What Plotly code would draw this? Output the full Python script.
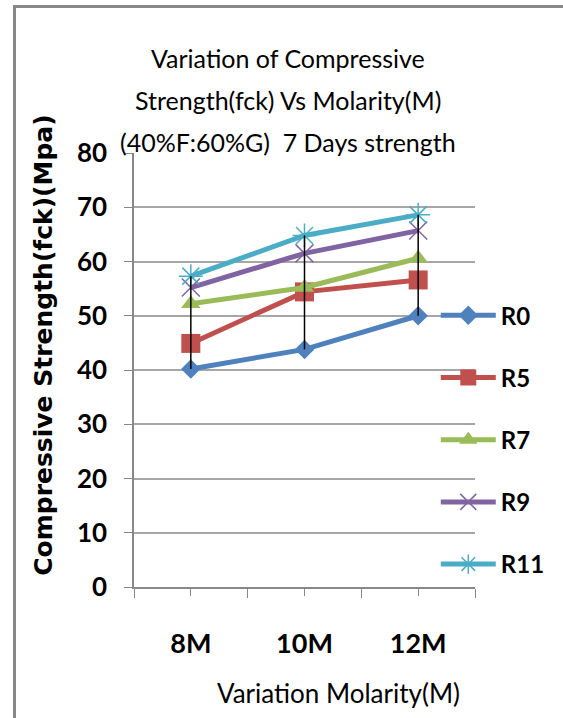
import numpy as np
import plotly.graph_objects as go

# data
molarity = ['8M', '10M', '12M']
series_names = ['R0', 'R5', 'R7', 'R9', 'R11']
r0 = [40.2, 43.8, 50.0]
r5 = [44.9, 54.4, 56.6]
r7 = [52.2, 55.2, 60.6]
r9 = [55.2, 61.5, 65.7]
r11 = [57.3, 64.8, 68.6]

colors = ['#4F81BD', '#C0504D', '#9BBB59', '#8064A2', '#4BACC6']
symbols = ['diamond', 'square', 'triangle-up', 'x-thin-open', 'asterisk-open']
sizes = [15, 19, 17, 18, 20]

FONT = 'Lato, sans-serif'
xpos = np.arange(len(molarity))

fig = go.Figure()

all_series = [r0, r5, r7, r9, r11]
for name, vals, col, sym, sz in zip(series_names, all_series, colors, symbols, sizes):
    thin = sym.endswith('open')
    fig.add_trace(go.Scatter(
        x=xpos, y=vals, name=name, mode='lines+markers',
        legendgroup=name,
        line=dict(color=col, width=5),
        marker=dict(symbol=sym, size=sz, color=col,
                    line=dict(color=col, width=1.5 if thin else 0)),
    ))

# high-low lines
arr = np.array(all_series)
hx, hy = [], []
for i in xpos:
    hx += [i, i, None]
    hy += [arr[:, i].min(), arr[:, i].max(), None]
fig.add_trace(go.Scatter(x=hx, y=hy, mode='lines', showlegend=False,
                         line=dict(color='black', width=1.5), hoverinfo='skip'))

grid = '#A6A6A6'
fig.update_xaxes(
    range=[-0.5, 2.5], tickvals=xpos, ticktext=molarity,
    ticks='outside', ticklen=7, tickcolor='#888888',
    minor=dict(tickvals=[-0.5, 0.5, 1.5, 2.5], ticks='outside', ticklen=9, tickcolor='#888888'),
    ticklabelstandoff=25,
    tickfont=dict(family=FONT, size=27, color='black', weight='bold'),
    showline=True, linecolor='#888888', linewidth=1.5, showgrid=False, zeroline=False,
)
fig.update_yaxes(
    range=[0, 80], dtick=10, ticks='outside', ticklen=8, tickcolor='#888888',
    ticklabelstandoff=12,
    tickfont=dict(family=FONT, size=26, color='black', weight='bold'),
    showline=True, linecolor='#888888', linewidth=1.5,
    showgrid=True, gridcolor=grid, gridwidth=1.5, zeroline=False,
)

title_lines = ['Variation of Compressive', 'Strength(fck) Vs Molarity(M)',
               '(40%F:60%G)  7 Days strength']
annotations = []
for line, yy in zip(title_lines, [1.219, 1.122, 1.026]):
    annotations.append(dict(text=line, x=0.452, y=yy, xref='paper', yref='paper',
                            showarrow=False, xanchor='center', yanchor='middle',
                            font=dict(family=FONT, size=25, color='black')))
annotations.append(dict(text='Compressive Strength(fck)(Mpa)', x=-0.264, y=0.558,
                        xref='paper', yref='paper', showarrow=False, textangle=-90,
                        xanchor='center', yanchor='middle',
                        font=dict(family='DejaVu Sans, sans-serif', size=25, color='black', weight='bold')))
annotations.append(dict(text='Variation Molarity(M)', x=0.601, y=-0.244,
                        xref='paper', yref='paper', showarrow=False,
                        xanchor='center', yanchor='middle',
                        font=dict(family=FONT, size=26, color='black')))

fig.update_layout(
    width=563, height=718,
    margin=dict(l=134, r=88, t=153, b=131),
    paper_bgcolor='white', plot_bgcolor='white',
    annotations=annotations,
    showlegend=True,
    legend=dict(x=0.885, y=0.677, xanchor='left', yanchor='top',
                bgcolor='rgba(0,0,0,0)', tracegroupgap=28, itemwidth=55,
                font=dict(family=FONT, size=24, color='black', weight='bold')),
)

# chart frame (top and left edges, the rest is cut off in the original)
frame_js = """
document.body.style.margin = '0';
document.body.style.overflow = 'hidden';
var fr = document.createElement('div');
fr.style.cssText = 'position:absolute;left:13px;top:5px;width:800px;height:900px;' +
    'border-left:3px solid #888;border-top:3px solid #888;pointer-events:none;';
document.body.appendChild(fr);
"""
fig.write_html("out.html", config={'displayModeBar': False}, post_script=frame_js)
